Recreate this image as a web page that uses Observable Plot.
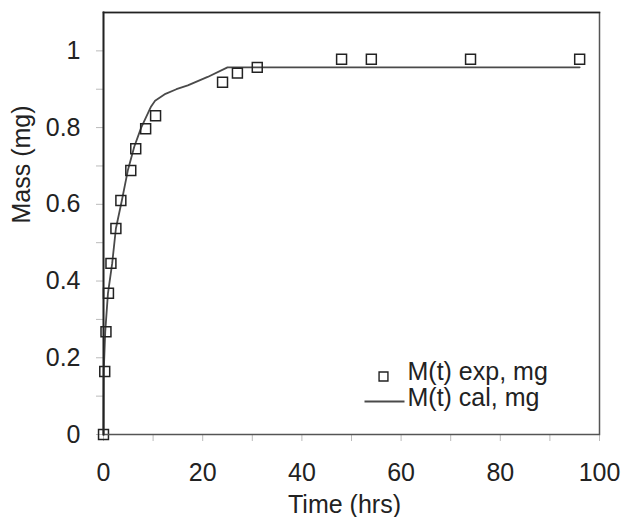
<!DOCTYPE html>
<html>
<head>
<meta charset="utf-8">
<script src="https://cdn.jsdelivr.net/npm/d3@7"></script>
<script src="https://cdn.jsdelivr.net/npm/@observablehq/plot@0.6"></script>
<style>
  html, body { margin: 0; padding: 0; background: #fff; }
  svg { display: block; }
</style>
</head>
<body>
<div id="chart"></div>
<script>
// Experimental mass uptake over time
const expTimes = [0, 0.25, 0.5, 1, 1.5, 2.5, 3.5, 5.5, 6.5, 8.5, 10.5, 24, 27, 31, 48, 54, 74, 96];
const expMass  = [0, 0.164, 0.268, 0.368, 0.446, 0.537, 0.61, 0.688, 0.745, 0.797, 0.831, 0.918, 0.942, 0.957, 0.978, 0.978, 0.978, 0.978];

// Calculated (model) curve
const calTimes = [0, 0.05, 0.35, 0.9, 1.75, 2.5, 3.7, 4.9, 6.2, 7.6, 9.6, 10.4, 12.5, 14.7, 17, 21, 25, 96];
const calMass  = [0, 0.164, 0.268, 0.368, 0.446, 0.537, 0.61, 0.688, 0.75, 0.8, 0.855, 0.87, 0.888, 0.9, 0.91, 0.932, 0.957, 0.957];

// Axis ticks
const xTickMarks  = d3.range(0, 101, 10);
const xTickLabels = [0, 20, 40, 60, 80, 100];
const yTickMarks  = d3.range(0, 11).map(i => i / 10);
const yTickLabels = [0, 0.2, 0.4, 0.6, 0.8, 1];

const legendLabels = ["M(t) exp, mg", "M(t) cal, mg"];

const expData = expTimes.map((t, i) => ({t, m: expMass[i]}));
const calData = calTimes.map((t, i) => ({t, m: calMass[i]}));

const font = "'Liberation Sans', Arial, Helvetica, sans-serif";
const ink = "#222";

// horizontal line swatch for the legend
const lineSymbol = {draw(ctx) { ctx.moveTo(-20, 0); ctx.lineTo(20, 0); }};

const chart = Plot.plot({
  width: 623,
  height: 517,
  marginLeft: 103,
  marginRight: 24,
  marginTop: 12,
  marginBottom: 83,
  style: {fontFamily: font, fontSize: "25px", color: ink, background: "#fff"},
  x: {domain: [0, 100]},
  y: {domain: [0, 1.1]},
  marks: [
    Plot.axisX({ticks: xTickMarks, tickSize: 7, stroke: "#bbb", text: null, label: null}),
    Plot.axisX({ticks: xTickLabels, tickSize: 0, tickPadding: 29, fontSize: 25, fill: ink, label: null}),
    Plot.axisY({ticks: yTickMarks, tickSize: 7, stroke: "#bbb", text: null, label: null}),
    Plot.axisY({ticks: yTickLabels, tickSize: 0, tickPadding: 23, fontSize: 25, fill: ink, label: null,
      tickFormat: d => String(+d.toFixed(1))}),
    Plot.line(calData, {x: "t", y: "m", stroke: "#4a4a4a", strokeWidth: 1.8}),
    Plot.dot(expData, {x: "t", y: "m", symbol: "square", r: 5.6, stroke: ink, strokeWidth: 1.5, fill: "none"}),
    // plot border: dark left/top, slightly lighter right/bottom
    Plot.frame({stroke: "#555", strokeWidth: 1.5}),
    Plot.frame({anchor: "left", stroke: ink, strokeWidth: 1.8}),
    Plot.frame({anchor: "top", stroke: ink, strokeWidth: 1.5}),
    // axis titles
    Plot.text(["Time (hrs)"], {frameAnchor: "bottom", dx: -7, dy: 78, fontSize: 25, fill: ink}),
    Plot.text(["Mass (mg)"], {frameAnchor: "left", rotate: -90, dx: -82, fontSize: 25, fill: ink}),
    // legend
    Plot.dot([legendLabels[0]], {frameAnchor: "bottom-right", dx: -216, dy: -58, symbol: "square", r: 5, stroke: ink, strokeWidth: 1.4, fill: "none"}),
    Plot.dot([legendLabels[1]], {frameAnchor: "bottom-right", dx: -215, dy: -33, symbol: lineSymbol, r: 5, stroke: "#4a4a4a", strokeWidth: 1.8, fill: "none"}),
    Plot.text([legendLabels[0]], {frameAnchor: "bottom-right", dx: -192, dy: -55, textAnchor: "start", fontSize: 25, fill: ink}),
    Plot.text([legendLabels[1]], {frameAnchor: "bottom-right", dx: -192, dy: -29, textAnchor: "start", fontSize: 25, fill: ink})
  ]
});

document.getElementById("chart").appendChild(chart);
</script>
</body>
</html>
